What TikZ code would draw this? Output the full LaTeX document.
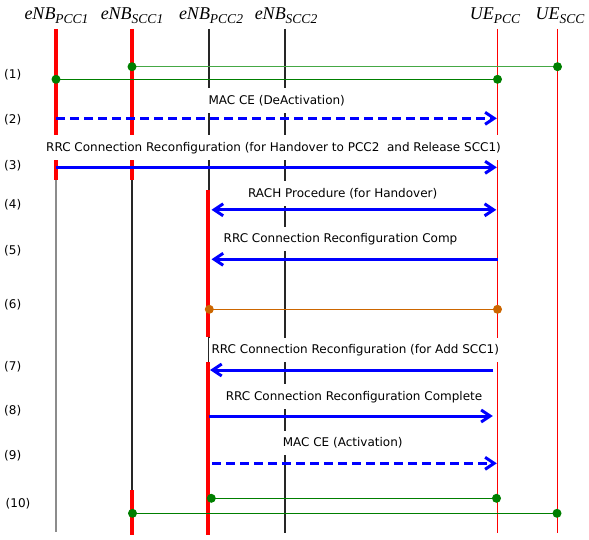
\documentclass[tikz,border=0pt]{standalone}
\usepackage{fontspec}
\setmainfont{DejaVu Sans}
\newfontfamily\hdrfont{Liberation Serif}
\usetikzlibrary{arrows.meta}
\definecolor{msgblue}{HTML}{0000FF}
\definecolor{actred}{HTML}{FF0000}
\definecolor{uered}{HTML}{FF0000}
\definecolor{ccgreen}{HTML}{007F00}
\definecolor{ltgreen}{HTML}{45A845}
\definecolor{hoorange}{HTML}{CC6600}
\definecolor{lifegray}{HTML}{8C8C8C}
\definecolor{lifedark}{HTML}{262626}

% entity header: italic name with lowered carrier index
\newcommand\entity[2]{{\hdrfont\itshape\fontsize{18}{18}\selectfont #1\raisebox{-4pt}{\fontsize{13.5}{14}\selectfont #2}}}

\begin{document}
\begin{tikzpicture}[x=1pt,y=-1pt,font=\fontsize{12}{14}\selectfont,
  hdr/.style={anchor=base,inner sep=0pt},
  life/.style={lifedark,line width=1.1pt},
  uelife/.style={uered,line width=1.5pt},
  actbar/.style={actred,line width=3.5pt},
  msglabel/.style={fill=white,anchor=base,inner xsep=3pt,inner ysep=6pt,
                   text height=10pt,text depth=2.5pt},
  rowlabel/.style={anchor=base west,inner sep=0pt},
  msg/.style={msgblue,line width=3pt,-{Straight Barb[length=9pt,width=12pt]}},
  bimsg/.style={msg,{Straight Barb[length=9pt,width=12pt]}-{Straight Barb[length=9pt,width=12pt]}},
  dashmsg/.style={msg,dash pattern=on 9pt off 5pt},
  link/.style={line width=1.4pt}]

  \useasboundingbox (0,0) rectangle (589,540);

  \def\xPCCi{56}     % eNB PCC1
  \def\xSCCi{132}    % eNB SCC1
  \def\xPCCii{209}   % eNB PCC2
  \def\xSCCii{285}   % eNB SCC2
  \def\xUEp{497.5}   % UE PCC
  \def\xUEs{557.5}   % UE SCC
  \def\rdot{4.5pt}

  % =====================================================================
  % HEADERS
  % =====================================================================
  \node[hdr] (h-pcc1) at (56.5,20) {\entity{eNB}{PCC1}};
  \node[hdr] (h-scc1) at (132,20)  {\entity{eNB}{SCC1}};
  \node[hdr] (h-pcc2) at (211,20)  {\entity{eNB}{PCC2}};
  \node[hdr] (h-scc2) at (286,20)  {\entity{eNB}{SCC2}};
  \node[hdr] (h-uep)  at (495,20)  {\entity{UE}{PCC}};
  \node[hdr] (h-ues)  at (560,20)  {\entity{UE}{SCC}};

  % =====================================================================
  % LIFELINES
  % =====================================================================
  \foreach \n/\x/\e in {pcc1/\xPCCi/531.5, scc1/\xSCCi/535,
                        pcc2/\xPCCii/535, scc2/\xSCCii/533} {
    \coordinate (\n-top) at (\x,29);
    \coordinate (\n-bot) at (\x,\e);
  }
  \draw[life,lifegray] (pcc1-top) -- (pcc1-bot);
  \foreach \n in {scc1,pcc2,scc2}
    \draw[life] (\n-top) -- (\n-bot);

  \coordinate (uep-top) at (\xUEp,29);  \coordinate (uep-bot) at (\xUEp,533);
  \coordinate (ues-top) at (\xUEs,29);  \coordinate (ues-bot) at (\xUEs,533);
  \draw[uelife] (uep-top) -- (uep-bot);
  \draw[uelife] (ues-top) -- (ues-bot);

  % active periods
  \foreach \n/\x/\a/\b in {b1/\xPCCi/29/180, b2/\xSCCi/29/180,
                           b3/208/190/337, b4/208/361.7/535, b5/\xSCCi/490/535} {
    \coordinate (\n-s) at (\x,\a);
    \coordinate (\n-e) at (\x,\b);
    \draw[actbar] (\n-s) -- (\n-e);
  }

  % =====================================================================
  % MESSAGE LABELS (white boxes cut the lifelines)
  % =====================================================================
  \node[msglabel] (lab2) at (276.7,104.4) {MAC CE (DeActivation)};
  \node[msglabel] (lab3) at (273.5,151.1)
        {RRC Connection Reconfiguration (for Handover to PCC2\ \ and Release SCC1)};
  \node[msglabel] (lab4) at (342.7,197.1) {RACH Procedure (for Handover)};
  \node[msglabel] (lab5) at (340.5,242.7) {RRC Connection Reconfiguration Comp};
  \node[msglabel] (lab7) at (355.3,353.7) {RRC Connection Reconfiguration (for Add SCC1)};
  \node[msglabel] (lab8) at (354,400.1)   {RRC Connection Reconfiguration Complete};
  \node[msglabel] (lab9) at (342.7,446.7) {MAC CE (Activation)};

  % =====================================================================
  % CARRIER LINKS (dots at both ends)
  % =====================================================================
  \foreach \n/\a/\b/\y/\lc/\dc in {
      l1a/\xSCCi/\xUEs/66.7/ltgreen/ccgreen,
      l1b/\xPCCi/\xUEp/79.3/ccgreen/ccgreen,
      l6/209.3/\xUEp/309.3/hoorange/hoorange,
      l10a/211.3/496.5/498.3/ccgreen/ccgreen,
      l10b/132.5/557/513.3/ccgreen/ccgreen} {
    \coordinate (\n-s) at (\a,\y);
    \coordinate (\n-e) at (\b,\y);
    \draw[link,\lc] (\n-s) -- (\n-e);
    \fill[\dc] (\n-s) circle[radius=\rdot] (\n-e) circle[radius=\rdot];
  }

  % =====================================================================
  % SIGNALLING MESSAGES
  % =====================================================================
  % (2) MAC CE deactivation
  \coordinate (m2-s) at (\xPCCi,118.3);  \coordinate (m2-e) at (496.8,118.3);
  \draw[dashmsg] (m2-s) -- (m2-e);
  % (3) reconfiguration for handover
  \coordinate (m3-s) at (\xPCCi,167.3);  \coordinate (m3-e) at (496.8,167.3);
  \draw[msg] (m3-s) -- (m3-e);
  % (4) RACH
  \coordinate (m4-s) at (211.5,209.8);   \coordinate (m4-e) at (496.3,209.8);
  \draw[bimsg] (m4-s) -- (m4-e);
  % (5) reconfiguration complete
  \coordinate (m5-s) at (\xUEp,259.3);   \coordinate (m5-e) at (211.5,259.3);
  \draw[msg] (m5-s) -- (m5-e);
  % (7) reconfiguration for add SCC1
  \coordinate (m7-s) at (493.3,370);     \coordinate (m7-e) at (210,370);
  \draw[msg] (m7-s) -- (m7-e);
  % (8) reconfiguration complete
  \coordinate (m8-s) at (208.5,416);     \coordinate (m8-e) at (492.8,416);
  \draw[msg] (m8-s) -- (m8-e);
  % (9) MAC CE activation
  \coordinate (m9-s) at (212,463.3);     \coordinate (m9-e) at (496.8,463.3);
  \draw[dashmsg] (m9-s) -- (m9-e);

  % =====================================================================
  % STEP NUMBERS
  % =====================================================================
  \foreach \i/\x/\y in {1/4/78.3, 2/4/123.8, 3/4/169.3, 4/4/208.3, 5/4/254.3,
                        6/4/308.3, 7/4/370.8, 8/4/414.3, 9/4/459.8, 10/5.5/507.3}
    \node[rowlabel] (row\i) at (\x,\y) {(\i)};

\end{tikzpicture}
\end{document}
